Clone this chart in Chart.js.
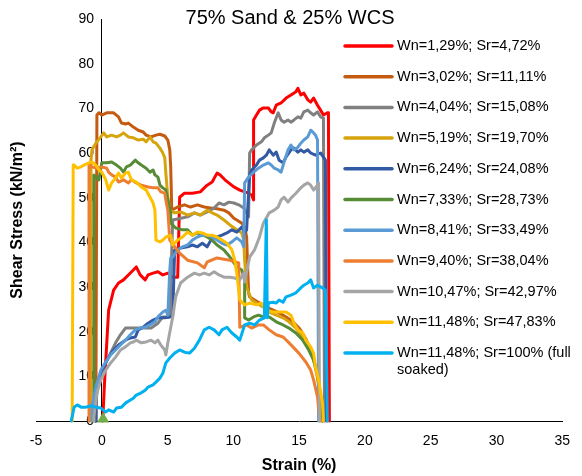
<!DOCTYPE html>
<html>
<head>
<meta charset="utf-8">
<script src="https://cdn.jsdelivr.net/npm/chart.js@4"></script>
<style>
  html, body { margin: 0; padding: 0; background: #fff; }
  #wrap { width: 582px; height: 476px; }
</style>
</head>
<body>
<div id="wrap"><canvas id="chart" width="582" height="476"></canvas></div>
<script>
const chartTitle = "75% Sand & 25% WCS";
const xTitle = "Strain (%)";
const yTitle = "Shear Stress (kN/m²)";

const xMin = -5, xMax = 35, xStep = 5;
const yMin = 0, yMax = 90, yStep = 10;

const seriesLabels = [
  ["Wn=1,29%; Sr=4,72%"],
  ["Wn=3,02%; Sr=11,11%"],
  ["Wn=4,04%; Sr=15,08%"],
  ["Wn=5,19%; Sr=19,70%"],
  ["Wn=6,24%; Sr=24,08%"],
  ["Wn=7,33%; Sr=28,73%"],
  ["Wn=8,41%; Sr=33,49%"],
  ["Wn=9,40%; Sr=38,04%"],
  ["Wn=10,47%; Sr=42,97%"],
  ["Wn=11,48%; Sr=47,83%"],
  ["Wn=11,48%; Sr=100% (full", "soaked)"],
];

const seriesColors = [
  "#FF0000", "#C55A11", "#808080", "#D6A40C", "#3259A3", "#578C36",
  "#5B9BD5", "#ED7D31", "#A5A5A5", "#FFC000", "#00B0F0",
];

// [strain %, shear stress kN/m2]
const wn129 = [[0.07,0],[0.22,9.2],[0.52,24.8],[0.9,29.3],[1.27,30.9],[1.65,31.6],[2.02,32.7],[2.4,33.8],[2.62,34.5],[2.92,32.7],[3.3,31.6],[3.52,32.7],[3.9,33.1],[4.27,33.4],[4.64,32.7],[5.02,33.1],[5.39,32.2],[5.77,32.2],[5.92,50.1],[6.29,51.0],[6.89,51.0],[7.49,51.3],[7.79,52.2],[8.01,52.8],[8.39,53.5],[8.76,55.5],[8.99,55.1],[9.36,54.0],[10.04,52.4],[10.49,51.7],[10.86,51.3],[11.16,51.0],[11.39,50.6],[11.54,49.5],[11.54,67.4],[11.76,68.5],[11.99,69.6],[12.28,70.1],[12.66,70.1],[12.88,69.2],[13.03,69.0],[13.26,70.7],[13.63,71.2],[14.01,72.3],[14.38,73.0],[14.76,73.7],[14.91,74.5],[15.13,73.0],[15.36,73.4],[15.66,71.9],[15.88,71.4],[16.10,72.3],[16.40,70.7],[16.63,69.6],[16.85,68.5],[17.15,69.0],[17.23,69.0],[17.30,0]];

const wn302 = [[-0.45,0],[-0.37,68.5],[-0.22,69.0],[0,68.5],[0.37,69.0],[0.9,69.0],[1.27,68.1],[1.5,66.7],[1.8,66.5],[2.02,66.7],[2.4,65.8],[2.77,65.1],[3.15,64.7],[3.37,64.0],[3.75,63.6],[4.12,64.0],[4.42,64.2],[4.79,63.8],[5.02,62.9],[5.17,60.7],[5.24,56.9],[5.32,47.2],[5.77,47.9],[6.29,48.4],[6.74,47.9],[7.27,48.4],[7.79,47.9],[8.24,47.7],[8.76,47.5],[9.29,47.2],[9.66,46.6],[10.04,45.4],[10.26,45.0],[10.64,44.3],[10.86,43.4],[11.01,41.2],[11.16,28.7],[11.24,27.8],[11.61,27.1],[11.99,26.4],[12.51,25.5],[13.03,24.8],[13.48,24.2],[14.01,23.3],[14.53,22.2],[15.06,20.6],[15.51,18.4],[15.96,15.2],[16.33,11.2],[16.63,5.6],[16.78,0]];

const wn404 = [[-0.45,0],[-0.37,7.6],[0,11.4],[0.52,14.3],[1.05,17.5],[1.42,19.3],[1.80,20.8],[2.25,20.8],[2.77,20.8],[3.30,20.8],[3.75,20.8],[4.27,21.9],[4.64,23.3],[4.87,23.3],[5.17,23.3],[5.39,45.0],[5.99,45.4],[6.52,45.7],[7.04,46.6],[7.49,46.1],[8.01,46.8],[8.54,47.7],[8.91,48.8],[9.29,48.4],[9.66,49.0],[10.04,48.8],[10.41,48.4],[10.79,47.7],[11.01,46.6],[11.16,45.7],[11.24,60.0],[11.39,60.7],[11.76,61.8],[12.13,62.5],[12.36,63.4],[12.66,64.0],[12.88,64.5],[13.11,66.7],[13.41,69.0],[13.63,67.4],[13.86,66.9],[14.16,67.4],[14.38,66.9],[14.61,67.4],[14.91,68.1],[15.13,67.8],[15.36,69.2],[15.66,69.6],[15.88,69.0],[16.10,68.5],[16.40,69.2],[16.63,68.1],[16.85,67.8],[16.93,0]];

const wn519 = [[-0.82,0],[-0.82,58.4],[-0.75,60.7],[-0.45,62.2],[-0.07,63.6],[0.15,64.5],[0.37,63.6],[0.75,64.0],[1.12,63.6],[1.42,64.0],[1.65,64.5],[2.02,63.6],[2.40,63.4],[2.77,62.9],[3.15,63.1],[3.37,62.5],[3.67,63.6],[3.90,62.5],[4.12,62.2],[4.42,61.1],[4.64,60.0],[4.79,58.9],[4.87,55.5],[5.02,50.1],[5.17,47.2],[5.54,46.6],[5.99,46.8],[6.52,46.1],[7.04,46.6],[7.49,46.1],[8.01,47.2],[8.39,46.6],[8.76,46.1],[9.29,45.0],[9.74,43.9],[10.26,42.8],[10.64,42.1],[10.79,40.5],[10.86,36.0],[11.01,30.0],[11.39,27.1],[11.76,26.4],[12.28,25.5],[12.73,24.4],[13.26,23.7],[13.78,23.1],[14.23,22.2],[14.76,20.8],[15.13,19.3],[15.51,17.5],[15.88,15.4],[16.10,13.7],[16.40,9.6],[16.63,4.7],[16.78,0]];

const wn624 = [[-0.45,0],[-0.45,4.7],[-0.22,9.8],[0.15,12.1],[0.52,14.3],[0.90,15.9],[1.27,17.0],[1.80,18.1],[2.17,18.6],[2.55,18.8],[2.77,20.4],[3.15,21.0],[3.52,21.9],[3.90,22.6],[4.27,23.1],[4.79,23.1],[5.17,23.3],[5.39,23.5],[5.54,38.3],[5.99,38.7],[6.52,39.0],[6.89,39.4],[7.27,39.0],[7.64,39.8],[8.01,39.0],[8.39,41.0],[8.76,41.2],[9.14,41.6],[9.51,42.1],[9.89,42.8],[10.26,42.3],[10.64,43.4],[10.86,42.1],[11.01,42.8],[11.16,51.0],[11.24,55.1],[11.39,56.2],[11.76,57.3],[11.99,58.4],[12.28,58.9],[12.51,59.5],[12.73,60.7],[13.03,59.5],[13.26,60.2],[13.48,58.4],[13.78,57.8],[14.01,59.1],[14.38,60.7],[14.61,61.1],[14.91,60.2],[15.13,60.7],[15.36,60.2],[15.66,60.7],[15.88,60.0],[16.25,59.5],[16.63,60.0],[16.85,59.1],[17.00,58.4],[17.08,0]];

const wn733 = [[-0.60,0],[-0.60,55.1],[-0.45,54.6],[-0.22,54.0],[0,57.8],[0.37,57.8],[0.75,58.0],[1.12,57.3],[1.42,56.6],[1.65,55.7],[1.87,56.9],[2.17,57.3],[2.55,58.4],[2.77,57.8],[3.00,57.3],[3.37,56.6],[3.67,55.7],[3.90,56.2],[4.04,55.1],[4.27,54.6],[4.42,52.8],[4.64,52.2],[4.87,51.7],[5.02,49.5],[5.24,46.6],[5.24,44.3],[5.62,43.2],[6.14,42.8],[6.52,42.8],[6.89,41.6],[7.27,42.1],[8.01,41.2],[8.39,40.5],[8.76,39.4],[9.29,38.3],[9.74,36.7],[10.26,34.5],[10.64,33.8],[10.86,31.6],[10.86,23.1],[11.16,22.6],[11.54,23.3],[11.91,23.7],[12.28,23.3],[12.73,23.3],[13.26,22.2],[13.78,21.5],[14.23,20.8],[14.76,19.7],[15.28,18.1],[15.73,15.9],[16.10,13.7],[16.40,10.7],[16.63,5.4],[16.78,0]];

const wn841 = [[-0.75,0],[-0.75,3.1],[-0.45,7.6],[-0.07,11.4],[0.30,13.2],[0.67,14.8],[1.05,15.9],[1.42,17.0],[1.80,18.1],[2.17,19.3],[2.55,20.4],[2.92,20.8],[3.30,21.0],[3.67,21.5],[4.04,22.2],[4.27,23.3],[4.64,24.4],[4.87,24.8],[5.02,23.7],[5.17,33.8],[5.24,36.5],[5.39,36.7],[5.77,38.3],[6.14,39.0],[6.52,39.4],[6.89,40.5],[7.27,41.2],[7.64,41.6],[8.01,41.6],[8.39,41.2],[8.76,40.5],[9.14,39.8],[9.51,39.4],[9.89,40.1],[10.26,41.0],[10.64,40.1],[10.79,39.0],[10.86,53.3],[11.16,54.6],[11.54,55.7],[11.91,56.6],[12.28,57.3],[12.66,57.8],[12.88,57.3],[13.11,56.6],[13.41,56.2],[13.63,55.7],[13.86,58.0],[14.16,60.7],[14.38,61.8],[14.61,60.7],[14.91,61.3],[15.13,62.2],[15.36,62.9],[15.66,63.6],[15.88,65.1],[16.10,64.5],[16.25,64.0],[16.40,62.9],[16.48,0]];

const wn940 = [[-0.97,0],[-0.97,57.3],[-0.75,56.9],[-0.37,56.6],[0,56.9],[0.37,56.6],[0.52,55.7],[0.75,55.1],[1.05,54.6],[1.27,53.5],[1.65,54.0],[2.02,53.3],[2.25,54.0],[2.62,53.3],[3.00,52.8],[3.52,52.4],[3.90,52.2],[4.27,52.2],[4.49,51.3],[4.79,51.0],[4.87,49.5],[5.02,47.2],[5.17,40.5],[5.54,39.0],[5.92,37.6],[6.52,36.0],[7.27,35.4],[7.79,34.3],[8.01,35.6],[8.76,36.5],[9.74,36.0],[10.41,35.4],[10.49,21.0],[11.01,21.5],[11.39,20.8],[11.91,21.5],[12.28,21.5],[12.73,20.4],[13.26,19.3],[13.78,18.8],[14.16,17.7],[14.53,16.6],[14.98,15.2],[15.51,13.2],[15.88,11.4],[16.10,9.2],[16.40,5.4],[16.55,0.9],[16.63,0]];

const wn1047 = [[-0.60,0],[-0.60,0.9],[-0.37,6.3],[-0.07,9.2],[0.30,11.4],[0.67,13.0],[1.05,14.3],[1.42,15.9],[1.80,16.6],[2.17,17.5],[2.40,17.7],[2.62,18.1],[3.00,17.5],[3.37,17.7],[3.75,18.1],[4.04,17.5],[4.27,18.1],[4.49,17.0],[4.79,15.9],[4.87,14.8],[5.02,17.5],[5.39,23.3],[5.62,27.8],[5.99,30.9],[6.52,32.2],[7.04,33.1],[7.42,32.7],[7.79,33.1],[8.16,32.7],[8.54,33.4],[8.91,32.7],[9.29,32.2],[9.74,32.2],[10.11,32.0],[10.49,31.6],[10.79,33.1],[10.86,31.1],[11.24,36.7],[11.61,38.3],[11.99,41.2],[12.28,44.3],[12.73,46.6],[13.11,47.2],[13.41,47.9],[13.63,49.5],[13.86,50.1],[14.16,49.0],[14.38,49.9],[14.76,51.0],[15.13,52.2],[15.36,52.8],[15.66,53.3],[15.88,52.8],[16.10,51.7],[16.40,52.8],[16.48,53.3],[16.55,0]];

const wn1148 = [[-2.25,0],[-2.17,57.3],[-2.10,57.3],[-1.87,56.6],[-1.57,56.9],[-1.35,57.3],[-0.97,57.8],[-0.75,58.0],[-0.45,57.3],[-0.22,56.2],[0,55.7],[0.30,54.0],[0.52,51.7],[0.75,53.3],[1.05,54.4],[1.27,55.5],[1.50,54.4],[1.80,55.5],[2.02,55.7],[2.25,54.0],[2.62,53.5],[3.00,52.4],[3.37,51.7],[3.67,50.1],[3.90,48.8],[4.04,47.2],[4.12,40.5],[4.42,40.1],[4.64,40.5],[4.87,41.2],[5.24,41.6],[5.39,39.4],[5.77,40.5],[6.14,41.2],[6.52,42.3],[6.89,41.6],[7.27,42.3],[7.64,42.1],[8.01,41.6],[8.39,41.6],[8.76,41.2],[9.14,40.5],[9.51,39.8],[9.89,38.3],[10.11,36.0],[10.26,33.1],[10.41,29.3],[10.49,27.1],[10.86,26.0],[11.24,26.4],[11.76,26.0],[12.13,26.4],[12.51,24.8],[13.03,24.4],[13.48,24.4],[14.01,24.4],[14.38,23.7],[14.61,21.9],[14.91,20.4],[15.28,19.7],[15.51,18.1],[15.88,16.6],[16.10,15.2],[16.25,12.1],[16.48,9.2],[16.78,4.0],[16.85,0]];

const wn1148soaked = [[-2.32,0],[-2.10,3.1],[-1.87,3.6],[-1.57,3.1],[-1.20,3.1],[-0.82,3.4],[-0.45,3.1],[-0.07,2.9],[0.30,2.0],[0.52,2.5],[0.90,2.0],[1.12,2.9],[1.50,3.1],[1.80,4.0],[2.17,4.7],[2.40,5.1],[2.62,5.8],[3.00,6.3],[3.30,6.9],[3.52,7.6],[3.90,8.1],[4.12,8.7],[4.42,9.6],[4.64,10.7],[4.87,13.0],[5.17,14.1],[5.54,15.2],[5.92,15.9],[6.29,15.4],[6.67,15.2],[7.04,16.3],[7.42,18.1],[7.79,20.4],[8.16,21.0],[8.54,20.4],[8.91,19.3],[9.14,20.4],[9.51,21.0],[9.89,19.7],[10.26,18.8],[10.49,18.1],[10.86,21.5],[11.24,21.9],[11.61,21.5],[11.99,22.6],[12.36,23.1],[12.51,45.0],[12.58,23.1],[12.66,26.4],[13.03,26.6],[13.26,26.4],[13.48,27.1],[13.78,26.6],[14.01,27.8],[14.38,28.2],[14.76,28.7],[15.13,29.8],[15.36,30.4],[15.66,30.9],[15.88,31.6],[16.10,29.8],[16.40,30.4],[16.78,29.8],[17.00,29.3],[17.15,0]];

const startMarker = [[0.1, 0.45]];

const seriesData = [wn129, wn302, wn404, wn519, wn624, wn733, wn841, wn940, wn1047, wn1148, wn1148soaked];

const fontFamily = "'Liberation Sans', Arial, sans-serif";

const datasets = seriesData.map((pts, i) => ({
  label: seriesLabels[i].join(" "),
  data: pts.map(([x, y]) => ({ x, y })),
  borderColor: seriesColors[i],
  backgroundColor: seriesColors[i],
  borderWidth: 3,
  borderJoinStyle: "round",
  borderCapStyle: "round",
  pointRadius: 0,
  showLine: true,
  clip: false,
  order: seriesData.length - i,
}));

datasets.push({
  label: "start",
  data: startMarker.map(([x, y]) => ({ x, y })),
  pointStyle: "triangle",
  pointRadius: 7,
  backgroundColor: "#70AD47",
  borderColor: "#70AD47",
  borderWidth: 0,
  showLine: false,
  clip: false,
  order: 0,
});

// title, y title and legend drawn at fixed spots like the Excel original
const overlay = {
  id: "overlay",
  afterDraw(chart) {
    const ctx = chart.ctx;
    ctx.save();
    ctx.fillStyle = "#000";
    ctx.textBaseline = "middle";

    ctx.font = "20px " + fontFamily;
    ctx.textAlign = "center";
    ctx.fillText(chartTitle, 290, 18);

    ctx.save();
    ctx.translate(18, 220);
    ctx.rotate(-Math.PI / 2);
    ctx.font = "bold 16px " + fontFamily;
    ctx.fillText(yTitle, 0, 0);
    ctx.restore();

    ctx.font = "14.5px " + fontFamily;
    ctx.textAlign = "left";
    ctx.lineWidth = 3.5;
    ctx.lineCap = "round";
    seriesLabels.forEach((lines, i) => {
      const y = 46 + i * 30.7;
      ctx.strokeStyle = seriesColors[i];
      ctx.beginPath();
      ctx.moveTo(345, y);
      ctx.lineTo(392, y);
      ctx.stroke();
      lines.forEach((t, j) => ctx.fillText(t, 397, y + j * 17));
    });
    ctx.restore();
  },
};

new Chart(document.getElementById("chart"), {
  type: "scatter",
  data: { datasets },
  options: {
    responsive: false,
    animation: false,
    devicePixelRatio: 1,
    layout: { padding: { top: 19, left: 36, right: 12, bottom: 0 } },
    plugins: {
      legend: { display: false },
      tooltip: { enabled: false },
    },
    scales: {
      x: {
        type: "linear",
        min: xMin,
        max: xMax,
        ticks: { stepSize: xStep, padding: 12, color: "#000", font: { size: 14, family: fontFamily } },
        grid: { display: true, color: "rgba(0,0,0,0)", drawTicks: false },
        border: { display: true, color: "#000", width: 1 },
        title: {
          display: true,
          text: xTitle,
          color: "#000",
          font: { size: 16, weight: "bold", family: fontFamily },
          padding: { top: 4, bottom: 1 },
        },
        afterFit(scale) { scale.height = 55; },
      },
      y: {
        type: "linear",
        min: yMin,
        max: yMax,
        position: { x: 0 },
        ticks: {
          stepSize: yStep,
          color: "#000",
          font: { size: 14, family: fontFamily },
          callback: (v) => v + "  ",
        },
        grid: { display: true, color: "rgba(0,0,0,0)", drawTicks: false },
        border: { display: true, color: "#000", width: 1 },
      },
    },
  },
  plugins: [overlay],
});
</script>
</body>
</html>
